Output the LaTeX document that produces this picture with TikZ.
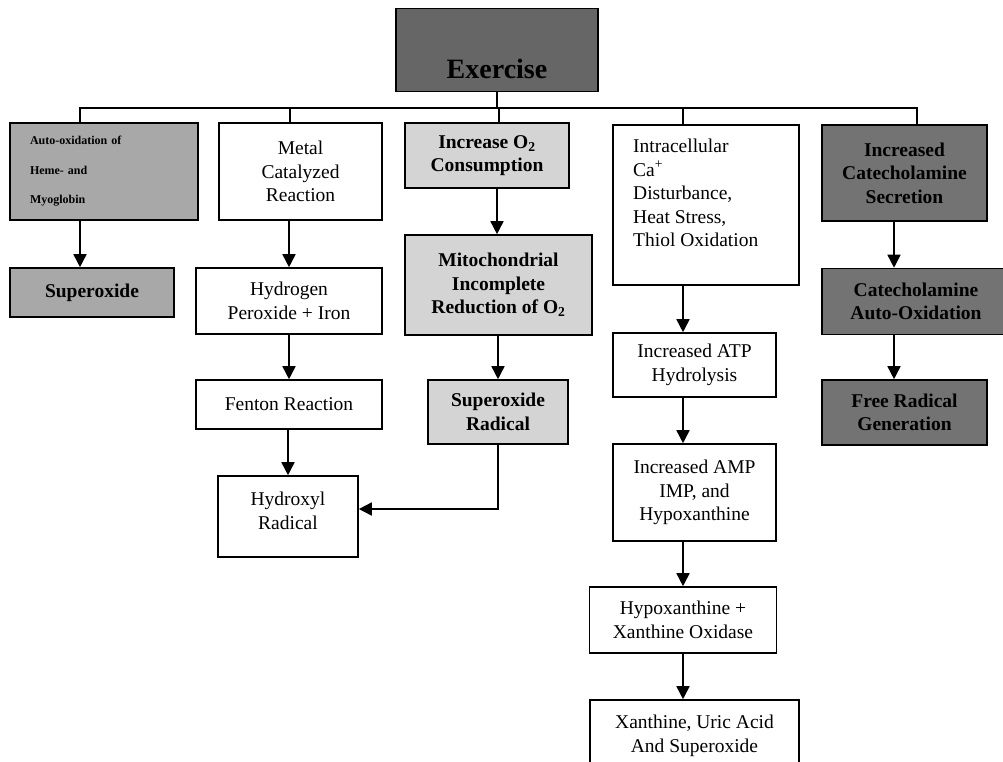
\documentclass[tikz,border=0pt]{standalone}
\usepackage{fontspec}
\setmainfont{Liberation Serif}
\usetikzlibrary{arrows.meta}
\definecolor{gdark}{gray}{0.40}
\definecolor{gcat}{gray}{0.45}
\definecolor{gmed}{gray}{0.66}
\definecolor{glight}{gray}{0.83}
\tikzset{
  box/.style={draw=black, line width=1.6pt, rectangle, align=center, inner sep=0pt,
    font=\fontsize{19.5}{23.5}\selectfont},
  boldbox/.style={box, font=\fontsize{19.5}{23.5}\selectfont\bfseries},
  arr/.style={line width=1.6pt, -{Triangle[length=13pt,width=13pt]}},
  tie/.style={line width=1.5pt},
}
\begin{document}
\begin{tikzpicture}[x=1pt,y=-1pt]
\useasboundingbox (0,0) rectangle (1003,761);
\fill[white] (0,0) rectangle (1003,761);
\clip (0,0) rectangle (1003,761);

% top
\node[box, fill=gdark, minimum width=202pt, minimum height=83pt] (ex) at (497,50) {};
\node[font=\fontsize{28}{28}\selectfont\bfseries, anchor=base, inner sep=0pt] (extext) at (497,78) {Exercise};

% column 1
\node[box, fill=gmed, minimum width=188pt, minimum height=97pt, text width=148pt, align=left,
      font=\fontsize{12}{29.5}\selectfont\bfseries] (auto) at (104,171.5)
      {Auto-oxidation of\\Heme- and\\Myoglobin};
\node[boldbox, fill=gmed, minimum width=164pt, minimum height=49pt] (sup1) at (92,292.5) {Superoxide};

% column 2
\node[box, minimum width=163pt, minimum height=97pt] (metal) at (300.5,171.5) {Metal\\Catalyzed\\Reaction};
\node[box, minimum width=186pt, minimum height=66pt] (hyd) at (289,301) {Hydrogen\\Peroxide + Iron};
\node[box, minimum width=186pt, minimum height=49pt] (fen) at (289,404.5) {Fenton Reaction};
\node[box, minimum width=140pt, minimum height=81pt] (hox) at (288,516.5) {Hydroxyl\\Radical\\[-12pt]};

% column 3
\node[boldbox, fill=glight, minimum width=164pt, minimum height=65pt] (o2) at (487,155.5) {Increase O\textsubscript{2}\\Consumption};
\node[boldbox, fill=glight, minimum width=187pt, minimum height=100pt] (mito) at (498.5,285) {Mitochondrial\\Incomplete\\Reduction of O\textsubscript{2}};
\node[boldbox, fill=glight, minimum width=140pt, minimum height=64pt] (srad) at (498,412) {Superoxide\\Radical};

% column 4
\node[box, minimum width=186pt, minimum height=160pt] (intra) at (706,205) {};
\node[anchor=north west, align=left, inner sep=0pt, font=\fontsize{19.5}{23.5}\selectfont] (intratext) at (633,139)
      {Intracellular\\Ca\textsuperscript{+}\\Disturbance,\\Heat Stress,\\Thiol Oxidation};
\node[box, minimum width=163pt, minimum height=64pt] (atp) at (694.5,365) {Increased ATP\\Hydrolysis};
\node[box, minimum width=163pt, minimum height=97pt] (amp) at (694.5,492.5) {Increased AMP\\IMP, and\\Hypoxanthine};
\node[box, minimum width=187pt, minimum height=66pt] (hx) at (683,620) {Hypoxanthine +\\Xanthine Oxidase};
\node[box, minimum width=209pt, minimum height=72pt] (xan) at (694.5,736) {Xanthine, Uric Acid\\And Superoxide};

% column 5
\node[boldbox, fill=gcat, minimum width=165pt, minimum height=96pt] (cat) at (904.5,173) {Increased\\Catecholamine\\Secretion};
\node[boldbox, fill=gcat, minimum width=188pt, minimum height=66pt] (cao) at (916,301.5) {Catecholamine\\Auto-Oxidation};
\node[boldbox, fill=gcat, minimum width=165pt, minimum height=65pt] (frg) at (904.5,412.5) {Free Radical\\Generation};

% tree from Exercise
\draw[tie] (ex.south) -- ++(0,15.5) coordinate (bus);
\draw[tie] (bus) -| ([xshift=-24pt]auto.north);
\draw[tie] (bus) -| ([xshift=-10.5pt]metal.north);
\draw[tie] (bus) -| ([xshift=12pt]o2.north);
\draw[tie] (bus) -| ([xshift=-23pt]intra.north);
\draw[tie] (bus) -| ([xshift=12.5pt]cat.north);

% arrows
\draw[arr] ([xshift=-24pt]auto.south) -- ([xshift=-24pt]auto.south |- sup1.north);
\draw[arr] (metal.south -| hyd.north) -- (hyd.north);
\draw[arr] (hyd.south) -- (fen.north);
\draw[arr] (fen.south -| hox.north) -- (hox.north);
\draw[arr] ([xshift=10pt]o2.south) -- ([xshift=10pt]o2.south |- mito.north);
\draw[arr] (mito.south -| srad.north) -- (srad.north);
\draw[arr] (srad.south) |- ([yshift=7.5pt]hox.east);
\draw[arr] ([xshift=-23pt]intra.south) -- ([xshift=-23pt]intra.south |- atp.north);
\draw[arr] ([xshift=-11.5pt]atp.south) -- ([xshift=-11.5pt]atp.south |- amp.north);
\draw[arr] (amp.south -| hx.north) -- (hx.north);
\draw[arr] (hx.south) -- (hx.south |- xan.north);
\draw[arr] ([xshift=-10.5pt]cat.south) -- ([xshift=-10.5pt]cat.south |- cao.north);
\draw[arr] ([xshift=-10.5pt]cat.south |- cao.south) -- ([xshift=-10.5pt]cat.south |- frg.north);
\end{tikzpicture}
\end{document}
